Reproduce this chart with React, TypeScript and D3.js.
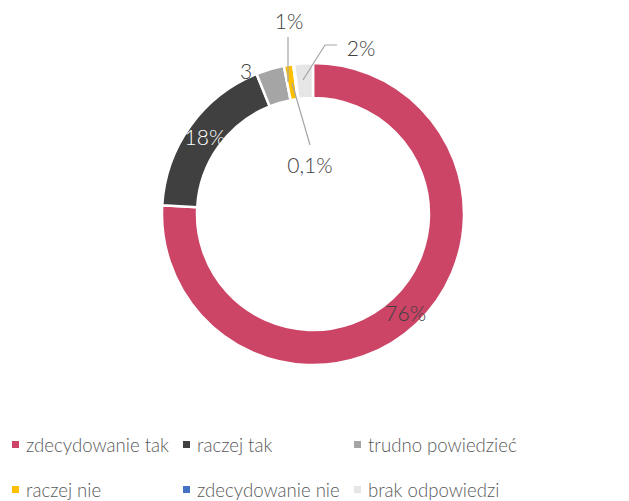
import React from "react";
import * as d3 from "d3";

const categories = ["zdecydowanie tak", "raczej tak", "trudno powiedzieć", "raczej nie", "zdecydowanie nie", "brak odpowiedzi"];
const values = [76, 18, 3, 1, 0.1, 2];
const labels = ["76%", "18%", "3", "1%", "0,1%", "2%"];
const colors = ["#CC4466", "#404040", "#A5A5A5", "#FFC000", "#4472C4", "#E7E6E6"];

const W = 629, H = 501;
const cx = 313, cy = 214, rOuter = 151, rInner = 116;
const FONT = "Lato, 'Open Sans', sans-serif";

export default function App() {
  const pie = d3.pie<number>().sort(null).value((d) => d)(values);
  const arc = d3.arc<d3.PieArcDatum<number>>().innerRadius(rInner).outerRadius(rOuter);
  const polar = (a: number, r: number) => [cx + r * Math.sin(a), cy - r * Math.cos(a)];
  const mid = (i: number) => (pie[i].startAngle + pie[i].endAngle) / 2;

  const p76 = polar(mid(0), 135);
  const p18 = polar(mid(1), 133);

  const legendX = [12, 183, 354];
  const legendY = [445, 490];

  return (
    <svg width={W} height={H} style={{ position: "absolute", left: 0, top: 0, background: "#fff" }}>
      <g transform={`translate(${cx},${cy})`}>
        {pie.map((d, i) => (
          <path key={categories[i]} d={arc(d) || ""} fill={colors[i]} stroke="#fff" strokeWidth={2.5} />
        ))}
      </g>
      {/* leader lines */}
      <line x1={288} y1={37} x2={288} y2={82} stroke="#A5A5A5" strokeWidth={1.2} />
      <line x1={310} y1={145} x2={292} y2={83} stroke="#A5A5A5" strokeWidth={1.2} />
      <polyline points="337,45 325,45 303,80" fill="none" stroke="#A5A5A5" strokeWidth={1.2} />
      <g fontFamily={FONT} fontSize={21} fontWeight={300} fill="#404040">
        <text x={p76[0]} y={p76[1]} textAnchor="middle" dominantBaseline="central">{labels[0]}</text>
        <text x={p18[0]} y={p18[1]} textAnchor="middle" dominantBaseline="central" fill="#fff">{labels[1]}</text>
        <text x={246} y={70} textAnchor="middle" dominantBaseline="central">{labels[2]}</text>
        <text x={289} y={20} textAnchor="middle" dominantBaseline="central">{labels[3]}</text>
        <text x={310} y={164} textAnchor="middle" dominantBaseline="central">{labels[4]}</text>
        <text x={361} y={47} textAnchor="middle" dominantBaseline="central">{labels[5]}</text>
      </g>
      <g fontFamily={FONT} fontSize={18.6} fontWeight={300} fill="#595959">
        {categories.map((c, i) => {
          const x = legendX[i % 3];
          const y = legendY[Math.floor(i / 3)];
          return (
            <g key={c}>
              <rect x={x} y={y - 4} width={7} height={7} fill={colors[i]} />
              <text x={x + 14} y={y} dominantBaseline="central">{c}</text>
            </g>
          );
        })}
      </g>
    </svg>
  );
}
